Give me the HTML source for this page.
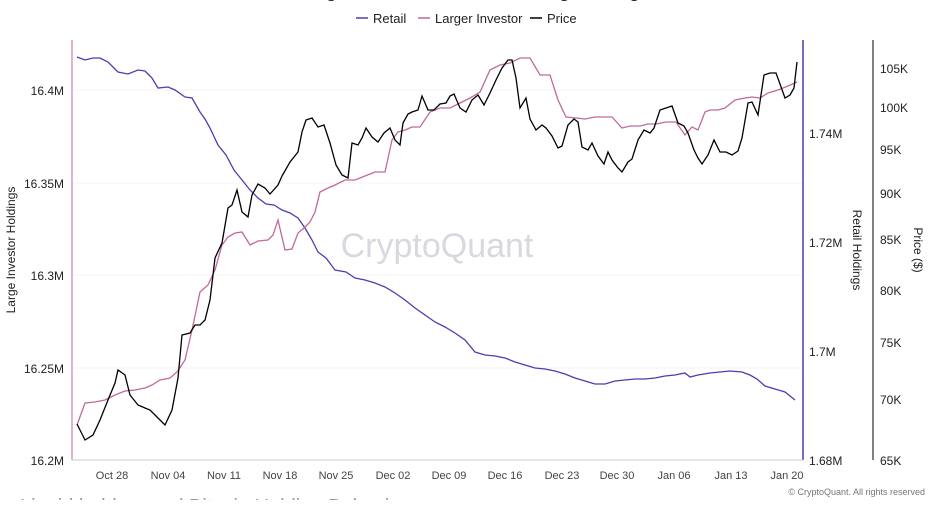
<!DOCTYPE html>
<html><head><meta charset="utf-8"><style>
body{margin:0;background:#fff;width:938px;height:500px;overflow:hidden;font-family:"Liberation Sans",sans-serif}
</style></head><body>
<svg width="938" height="500" xmlns="http://www.w3.org/2000/svg" font-family="Liberation Sans, sans-serif">
<text x="469" y="-3" text-anchor="middle" font-size="18" font-weight="bold" fill="#222">Large Holders vs Retail Holdings Rising</text>
<g font-size="13" fill="#222">
<line x1="356" y1="18" x2="368" y2="18" stroke="#4a3fb0" stroke-width="1.5"/><text x="373" y="23">Retail</text>
<line x1="418" y1="18" x2="430" y2="18" stroke="#c06a9c" stroke-width="1.5"/><text x="435" y="23">Larger Investor</text>
<line x1="530" y1="18" x2="542" y2="18" stroke="#000" stroke-width="1.5"/><text x="547" y="23">Price</text>
</g>
<g stroke="#f3f3f3" stroke-width="1"><line x1="73" y1="368" x2="802" y2="368"/><line x1="73" y1="275" x2="802" y2="275"/><line x1="73" y1="183" x2="802" y2="183"/><line x1="73" y1="90" x2="802" y2="90"/></g>
<line x1="72" y1="40" x2="72" y2="460" stroke="#c06a9c" stroke-width="1"/>
<line x1="803" y1="40" x2="803" y2="460" stroke="#4a3fb0" stroke-width="1.5"/>
<line x1="873" y1="40" x2="873" y2="460" stroke="#000" stroke-width="1"/>
<line x1="72" y1="460" x2="803" y2="460" stroke="#ccc"/>
<text x="437" y="257" text-anchor="middle" font-size="34" fill="#d8d8e0">CryptoQuant</text>
<g font-size="12" fill="#222" text-anchor="end">
<text x="64" y="465">16.2M</text><text x="64" y="373">16.25M</text><text x="64" y="280">16.3M</text><text x="64" y="188">16.35M</text><text x="64" y="95">16.4M</text>
</g>
<g font-size="12" fill="#222">
<text x="809" y="465">1.68M</text><text x="809" y="356">1.7M</text><text x="809" y="247">1.72M</text><text x="809" y="138">1.74M</text>
<text x="880" y="465">65K</text><text x="880" y="404">70K</text><text x="880" y="347">75K</text><text x="880" y="295">80K</text><text x="880" y="244">85K</text><text x="880" y="198">90K</text><text x="880" y="154">95K</text><text x="880" y="112">100K</text><text x="880" y="73">105K</text>
</g>
<g font-size="11" fill="#444" text-anchor="middle">
<text x="112" y="479">Oct 28</text><text x="168" y="479">Nov 04</text><text x="224" y="479">Nov 11</text><text x="280" y="479">Nov 18</text><text x="336" y="479">Nov 25</text><text x="393" y="479">Dec 02</text><text x="449" y="479">Dec 09</text><text x="505" y="479">Dec 16</text><text x="562" y="479">Dec 23</text><text x="617" y="479">Dec 30</text><text x="674" y="479">Jan 06</text><text x="731" y="479">Jan 13</text><text x="787" y="479">Jan 20</text>
</g>
<text transform="translate(15,250) rotate(-90)" text-anchor="middle" font-size="12" fill="#222">Large Investor Holdings</text>
<text transform="translate(853,250) rotate(90)" text-anchor="middle" font-size="12" fill="#222">Retail Holdings</text>
<text transform="translate(914,250) rotate(90)" text-anchor="middle" font-size="12" fill="#222">Price ($)</text>
<text x="925" y="495" text-anchor="end" font-size="9" fill="#777">© CryptoQuant. All rights reserved</text>
<text x="20" y="513" font-size="20" fill="#999">Liquid holders and Bitcoin Holding Behavior</text>
<polyline fill="none" stroke="#4a3fb0" stroke-width="1.3" points="77,57 85,60 93,58 100,58 108,62 118,72 128,74 138,70 145,71 152,78 158,88 168,87 175,90 185,97 192,98 200,112 205,119 210,128 218,145 226,155 234,170 242,180 250,190 258,198 266,204 274,205 282,210 290,213 298,218 305,228 312,240 318,252 326,258 335,270 346,272 355,278 365,280 375,283 385,287 395,293 405,300 415,308 425,315 435,322 445,327 455,333 465,340 475,352 485,355 495,356 505,358 515,362 525,365 535,368 545,369 555,371 565,374 575,378 585,381 595,384 605,384 615,381 625,380 635,379 645,379 655,378 665,376 675,375 685,373 690,377 698,375 710,373 720,372 730,371 742,372 750,375 757,379 765,386 775,389 785,392 795,400"/>
<polyline fill="none" stroke="#c06a9c" stroke-width="1.3" points="77,425 85,403 95,402 105,400 115,395 125,391 135,390 145,388 152,385 160,380 170,378 177,372 185,360 192,330 200,292 208,285 215,270 222,245 228,237 235,233 242,232 250,245 258,241 268,240 273,235 278,220 285,250 292,249 298,233 304,228 310,222 315,212 320,192 328,188 335,185 345,180 355,180 365,176 375,172 385,172 392,140 398,132 405,130 412,127 420,127 430,112 440,108 450,108 460,103 470,98 480,92 490,70 500,65 510,63 520,58 530,58 540,75 550,75 558,100 566,117 576,118 585,119 595,117 605,117 612,117 622,128 630,126 640,126 648,124 656,124 666,122 676,122 685,135 692,127 698,130 705,112 710,110 718,110 725,108 735,100 745,98 752,97 760,98 768,93 778,90 788,86 797,82"/>
<polyline fill="none" stroke="#000" stroke-width="1.3" points="77,424 85,440 93,435 100,420 108,400 115,383 118,370 125,375 130,395 138,405 145,408 150,410 158,418 165,425 172,410 178,378 182,335 190,333 195,325 200,325 205,320 210,300 215,258 222,243 228,208 232,205 237,190 242,212 248,217 252,195 258,184 265,188 270,194 278,185 282,176 290,162 298,152 302,132 306,120 312,118 318,127 324,125 330,143 336,165 342,175 348,178 352,143 358,145 362,138 366,128 372,137 378,142 384,133 390,128 395,140 400,145 403,123 408,114 412,112 418,110 422,96 428,110 434,110 440,104 446,103 450,96 454,94 460,108 466,112 472,100 478,95 484,105 490,93 496,80 502,68 508,60 512,60 516,78 520,108 526,98 530,119 536,130 542,125 546,128 552,136 558,148 562,146 568,125 574,119 578,122 582,147 588,150 592,143 598,156 604,164 608,152 612,160 618,168 622,172 628,162 632,159 638,140 644,130 650,133 654,128 660,110 666,108 672,106 678,123 684,126 688,133 694,150 698,158 702,164 708,155 714,140 720,152 726,152 732,155 738,151 742,138 748,103 752,102 758,115 764,75 770,73 776,73 780,84 785,98 790,95 794,88 797,62"/>
</svg>
</body></html>
